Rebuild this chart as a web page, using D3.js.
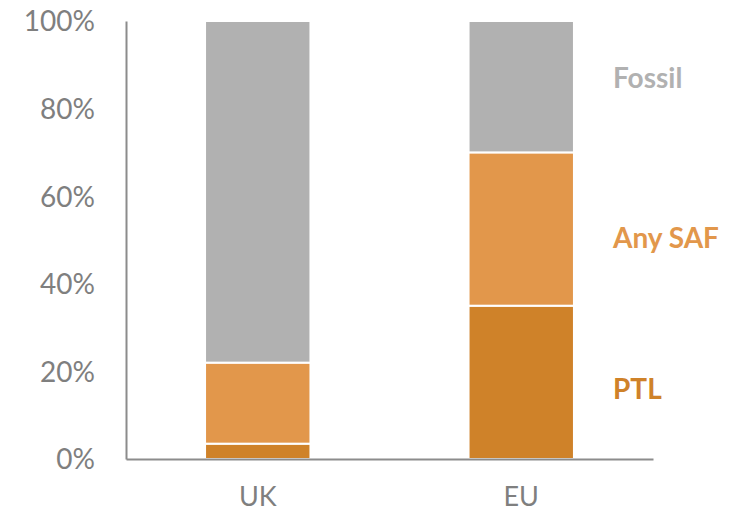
<!DOCTYPE html>
<html>
<head>
<meta charset="utf-8">
<script src="https://cdn.jsdelivr.net/npm/d3@7"></script>
<style>
  html, body { margin: 0; padding: 0; background: #fff; }
  svg { display: block; }
</style>
</head>
<body>
<svg id="chart" width="730" height="512"></svg>
<script>
// Regions compared
const categories = ["UK", "EU"];
// Share of fuel by type, percent (stacked bottom to top)
const ptl = [3.5, 35];
const anySaf = [18.5, 35];
const fossil = [78, 30];
const seriesNames = ["PTL", "Any SAF", "Fossil"];
const yTicks = [0, 20, 40, 60, 80, 100];
// Where each series name sits along the value axis, percent
const seriesLabelAt = [16, 50.5, 87];

const colors = { "PTL": "#cf8229", "Any SAF": "#e2974b", "Fossil": "#b1b1b1" };

const svg = d3.select("#chart");
const plot = { left: 126, right: 653, top: 21, bottom: 459 };

const x = d3.scaleBand().domain(categories).range([plot.left, plot.right])
  .paddingInner(0.6).paddingOuter(0.3);
const y = d3.scaleLinear().domain([0, 100]).range([plot.bottom, plot.top]);

const rows = categories.map((c, i) => ({
  cat: c, "PTL": ptl[i], "Any SAF": anySaf[i], "Fossil": fossil[i]
}));
const stacked = d3.stack().keys(seriesNames)(rows);

const font = "Lato, 'Open Sans', sans-serif";

// stacked bars
svg.append("g").selectAll("g").data(stacked).join("g")
  .attr("fill", d => colors[d.key])
  .selectAll("rect").data(d => d).join("rect")
  .attr("x", d => x(d.data.cat))
  .attr("width", x.bandwidth())
  .attr("y", d => y(d[1]))
  .attr("height", d => y(d[0]) - y(d[1]))
  .attr("stroke", "#fff")
  .attr("stroke-width", 2);

// value axis
const yAxis = d3.axisLeft(y).tickValues(yTicks).tickSize(0).tickPadding(31)
  .tickFormat(d => d + "%");
const gy = svg.append("g").attr("transform", `translate(${plot.left},0)`).call(yAxis);
gy.select(".domain").attr("stroke", "#8c8c8c").attr("stroke-width", 2);
gy.selectAll("text").attr("fill", "#7f7f7f").style("font-family", font)
  .style("font-size", "28px").attr("dy", "0.35em");

// category axis
const xAxis = d3.axisBottom(x).tickSize(0).tickPadding(28);
const gx = svg.append("g").attr("transform", `translate(0,${plot.bottom})`).call(xAxis);
gx.select(".domain").attr("stroke", "#8c8c8c").attr("stroke-width", 2);
gx.selectAll("text").attr("fill", "#7f7f7f").style("font-family", font)
  .style("font-size", "27px");

// series names to the right of the bars
svg.append("g").selectAll("text").data(seriesNames).join("text")
  .attr("x", 613)
  .attr("y", (d, i) => y(seriesLabelAt[i]))
  .attr("dy", "0.35em")
  .attr("fill", d => colors[d])
  .style("font-family", font)
  .style("font-weight", "bold")
  .style("font-size", "28px")
  .text(d => d);
</script>
</body>
</html>
